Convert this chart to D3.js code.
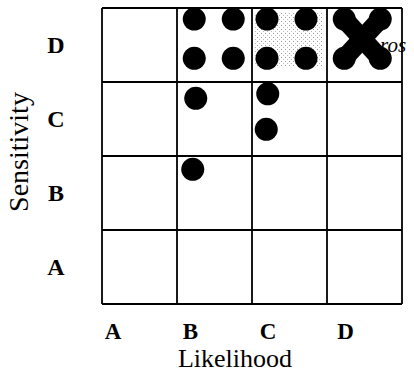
<!DOCTYPE html>
<html>
<head>
<meta charset="utf-8">
<script src="https://cdn.jsdelivr.net/npm/d3@7"></script>
<style>
  body { margin: 0; background: #fff; }
  svg { display: block; }
  text { font-family: "Liberation Serif", "DejaVu Serif", serif; fill: #000; }
</style>
</head>
<body>
<svg id="chart" width="414" height="375"></svg>
<script>
// Grid categories
const LEVELS = ['A', 'B', 'C', 'D'];

// Points in continuous axis units (0..4, cell A = 0..1)
const POINT_LIK = [1.23, 1.75, 1.23, 1.75, 2.2, 2.72, 2.2, 2.72, 3.23, 3.71, 3.23, 3.71, 1.25, 2.21, 2.19, 1.21];
const POINT_SEN = [3.85, 3.85, 3.32, 3.32, 3.85, 3.85, 3.32, 3.32, 3.85, 3.85, 3.32, 3.32, 2.78, 2.84, 2.36, 1.82];

// Stippled region in cell C/D
const SHADE = { lik: [2.04, 2.95], sen: [3.2, 3.93] };
// Cross joining the four points in cell D/D (indexes into the point arrays)
const CROSS = [[8, 11], [9, 10]];

const svg = d3.select('#chart');
const x = d3.scaleLinear().domain([0, 4]).range([102, 402]);
const y = d3.scaleLinear().domain([0, 4]).range([304, 8]);

// ── Stipple pattern ────────────────────────────────────────────
const pat = svg.append('defs').append('pattern')
  .attr('id', 'stipple').attr('width', 4).attr('height', 4)
  .attr('patternUnits', 'userSpaceOnUse');
pat.append('rect').attr('width', 4).attr('height', 4).attr('fill', '#fff');
pat.append('rect').attr('x', 1).attr('y', 1).attr('width', 1).attr('height', 1).attr('fill', '#999');
pat.append('rect').attr('x', 3).attr('y', 3).attr('width', 1).attr('height', 1).attr('fill', '#bbb');

svg.append('rect')
  .attr('x', x(SHADE.lik[0])).attr('y', y(SHADE.sen[1]))
  .attr('width', x(SHADE.lik[1]) - x(SHADE.lik[0]))
  .attr('height', y(SHADE.sen[0]) - y(SHADE.sen[1]))
  .attr('fill', 'url(#stipple)');

// ── Grid ───────────────────────────────────────────────────────
const g = svg.append('g').attr('stroke', '#000').attr('stroke-width', 1.8);
d3.range(5).forEach(i => {
  g.append('line').attr('x1', x(i)).attr('x2', x(i)).attr('y1', y(0)).attr('y2', y(4));
  g.append('line').attr('y1', y(i)).attr('y2', y(i)).attr('x1', x(0)).attr('x2', x(4));
});

// ── Cross and dots ─────────────────────────────────────────────
svg.append('g').selectAll('line').data(CROSS).join('line')
  .attr('x1', d => x(POINT_LIK[d[0]])).attr('y1', d => y(POINT_SEN[d[0]]))
  .attr('x2', d => x(POINT_LIK[d[1]])).attr('y2', d => y(POINT_SEN[d[1]]))
  .attr('stroke', '#000').attr('stroke-width', 19);

svg.append('g').selectAll('circle').data(d3.range(POINT_LIK.length)).join('circle')
  .attr('cx', i => x(POINT_LIK[i])).attr('cy', i => y(POINT_SEN[i]))
  .attr('r', 11.5).attr('fill', '#000');

svg.append('text').attr('x', 380).attr('y', 52)
  .attr('font-size', 21).attr('font-style', 'italic').text('ros');

// ── Axis labels ────────────────────────────────────────────────
svg.append('g').selectAll('text').data(LEVELS).join('text')
  .attr('x', (d, i) => x(i) + 11 + i * 2.5).attr('y', 339)
  .attr('text-anchor', 'middle')
  .attr('font-size', 23).attr('font-weight', 'bold')
  .text(d => d);

svg.append('g').selectAll('text').data(LEVELS).join('text')
  .attr('x', 56).attr('y', (d, i) => y(i + 0.5) + 8)
  .attr('text-anchor', 'middle')
  .attr('font-size', 24).attr('font-weight', 'bold')
  .text(d => d);

svg.append('text').attr('x', 235).attr('y', 367)
  .attr('text-anchor', 'middle').attr('font-size', 26).text('Likelihood');

svg.append('text').attr('transform', 'translate(28,152) rotate(-90)')
  .attr('text-anchor', 'middle').attr('font-size', 28).text('Sensitivity');
</script>
</body>
</html>
